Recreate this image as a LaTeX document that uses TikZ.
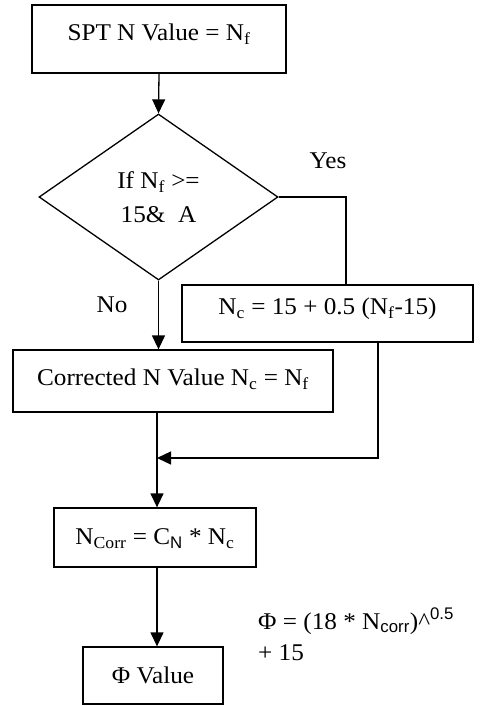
\documentclass[tikz,border=0pt]{standalone}
\usepackage{fontspec}
\setmainfont[FakeStretch=1.05]{Liberation Serif}
\setsansfont{Liberation Sans}
\usetikzlibrary{shapes.geometric,arrows.meta}

\begin{document}
\begin{tikzpicture}[x=1pt,y=-1pt,
  every node/.style={font=\fontsize{24}{34}\selectfont},
  stepbox/.style={draw, line width=1.3pt, rectangle, inner sep=0pt,
                  text height=18pt, text depth=2pt},
  decision/.style={draw, line width=1.3pt, diamond, inner sep=0pt, align=center},
  flow/.style={line width=1.3pt},
  arrow/.style={flow, -{Triangle[length=14pt,width=13pt]}},
  lbl/.style={inner sep=0pt}
]
\useasboundingbox (0,0) rectangle (483,706);

% process boxes and the decision
\node[stepbox, minimum width=254pt, minimum height=68pt,
      text height=11pt, text depth=7pt] (spt) at (159,39)
  {SPT N Value = N\textsubscript{f}};
\node[decision, minimum width=239pt, minimum height=166pt] (dec) at (158.5,197)
  {If N\textsubscript{f} >=\\15\&\ \ A};
\node[stepbox, minimum width=291pt, minimum height=57pt,
      text height=10pt, text depth=8pt] (nc) at (327.5,313.5)
  {N\textsubscript{c} = 15 + 0.5 (N\textsubscript{f}-15)};
\node[stepbox, minimum width=320pt, minimum height=62pt,
      text height=12pt, text depth=3pt] (cor) at (173,381)
  {Corrected N Value N\textsubscript{c} = N\textsubscript{f}};
\node[stepbox, minimum width=202pt, minimum height=59pt,
      text height=16pt, text depth=2pt] (ncorr) at (155,537.5)
  {N\textsubscript{Corr} = C\textsubscript{\sffamily N} * N\textsubscript{c}};
\node[stepbox, minimum width=140pt, minimum height=57pt] (phi) at (153,675.5)
  {Φ Value};

% formula beside the last box (base anchor sits on the second line)
\node[lbl, anchor=base west, align=left, font=\fontsize{24}{31}\selectfont\rmfamily] (eq) at (258,660)
  {Φ = (18 * N\textsubscript{\sffamily corr})\textasciicircum\textsuperscript{\sffamily 0.5}\\\rmfamily + 15};

% branch labels
\node[lbl] (yes) at (328,161) {Yes};
\node[lbl] (no) at (112,305) {No};

% connectors
\coordinate (yesturn) at (346,197);
\coordinate (merge) at (157,458);
\coordinate (back) at (378,458);

\draw[arrow] (spt.south) -- (dec.north);
\draw[flow] (dec.east) -- (yesturn) -- (yesturn |- nc.north);
\draw[arrow] (dec.south) -- (dec.south |- cor.north);
\draw[arrow] (back |- nc.south) -- (back) -- (merge);
\draw[flow] (merge |- cor.south) -- (merge);
\draw[arrow] (merge) -- (merge |- ncorr.north);
\draw[arrow] (merge |- ncorr.south) -- (merge |- phi.north);
\end{tikzpicture}
\end{document}
